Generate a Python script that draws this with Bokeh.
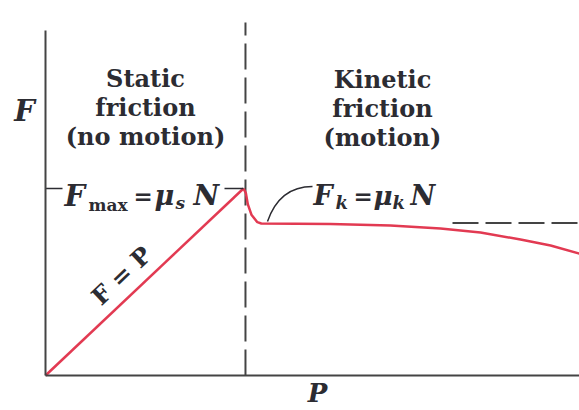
from bokeh.plotting import figure
from bokeh.models import Range1d, Label, FixedTicker
from bokeh.embed import file_html
from bokeh.resources import INLINE

# Friction force F versus applied force P (normalised so that F_max = 1 at P = 1)
static_P = [0.0, 1.0]
static_F = [0.0, 1.0]

kinetic_P = [1.0, 1.012, 1.022, 1.04, 1.07, 1.09, 1.439, 1.742, 1.995, 2.197, 2.399, 2.551, 2.697]
kinetic_F = [1.0, 0.975, 0.915, 0.86, 0.82, 0.813, 0.810, 0.802, 0.786, 0.765, 0.727, 0.695, 0.652]

P_limit = 1.0      # onset of motion
F_k_level = 0.816  # kinetic friction asymptote

RED = "#e23a52"
INK = "#2c2c32"
AXIS = "#444444"
SERIF = "DejaVu Serif"

W, H = 579, 410
OX, OY = 45, 375        # canvas position of the origin
SX, SY = 198.0, 187.0   # pixels per unit


def X(px):
    return (px - OX) / SX


def Y(py):
    return (OY - py) / SY


p = figure(width=W, height=H, output_backend="svg", toolbar_location=None,
           x_range=Range1d(X(0), X(W)), y_range=Range1d(Y(H), Y(0)),
           min_border=0)
p.outline_line_color = None
p.xgrid.visible = False
p.ygrid.visible = False
p.background_fill_color = "white"

# axes drawn through the origin
for ax in (p.xaxis[0], p.yaxis[0]):
    ax.fixed_location = 0
    ax.ticker = FixedTicker(ticks=[])
    ax.major_tick_line_color = None
    ax.minor_tick_line_color = None
    ax.major_tick_out = 0
    ax.major_tick_in = 0
    ax.major_label_standoff = 0
    ax.axis_line_color = AXIS
    ax.axis_line_width = 2
p.yaxis[0].bounds = (0, Y(30))
p.xaxis[0].bounds = (0, X(W))

# boundary between static and kinetic regimes
p.segment(x0=[P_limit * 1.01], y0=[0], x1=[P_limit * 1.01], y1=[Y(22)],
          line_color=AXIS, line_width=2, line_dash="26 8")
p.segment(x0=[X(452)], y0=[F_k_level], x1=[X(579)], y1=[F_k_level],
          line_color=AXIS, line_width=2, line_dash="26 7")

# friction curve
p.line(static_P, static_F, line_color=RED, line_width=2.5)
p.line(kinetic_P, kinetic_F, line_color=RED, line_width=2.5)

# leader lines
p.segment(x0=[X(45)], y0=[static_F[-1]], x1=[X(62)], y1=[static_F[-1]], line_color=INK, line_width=1.5)
p.segment(x0=[X(224)], y0=[static_F[-1]], x1=[static_P[-1]], y1=[static_F[-1]], line_color=INK, line_width=1.5)
p.bezier(x0=[X(267)], y0=[Y(221)], x1=[X(312)], y1=[Y(186)],
         cx0=[X(276)], cy0=[Y(195)], cx1=[X(292)], cy1=[Y(186)], line_color=INK, line_width=1.5)


def txt(x, y, s, size, style="normal", align="left", base="alphabetic", angle=0.0):
    p.add_layout(Label(x=X(x), y=Y(y), text=s, text_font=SERIF, text_font_size=f"{size}px",
                       text_font_style=style, text_color=INK, text_align=align,
                       text_baseline=base, angle=angle))


# axis names
txt(24, 110, "F", 29, "bold italic", "center", "middle")
txt(317, 392, "P", 26, "bold italic", "center", "middle")

for i, s in enumerate(["Static", "friction", "(no motion)"]):
    txt(145, 78 + 29 * i, s, 24, "bold", "center")
for i, s in enumerate(["Kinetic", "friction", "(motion)"]):
    txt(382, 79 + 29 * i, s, 24, "bold", "center")

# F_max = mu_s N
txt(64, 195, "F", 29, "bold italic")
txt(88, 204, "max", 17, "bold")
txt(133, 195, "=", 23, "bold")
txt(154, 195, "μ", 27, "bold italic")
txt(175, 202, "s", 17, "bold italic")
txt(193, 195, "N", 28, "bold italic")

# F_k = mu_k N
txt(313, 195, "F", 27, "bold italic")
txt(335, 202, "k", 18, "bold italic")
txt(353, 195, "=", 23, "bold")
txt(373, 195, "μ", 26, "bold italic")
txt(392, 202, "k", 18, "bold italic")
txt(410, 195, "N", 27, "bold italic")

# F = P along the static line
txt(121, 275, "F = P", 24, "bold", "center", "middle", angle=0.76)

open("out.html", "w").write(file_html(p, INLINE))
